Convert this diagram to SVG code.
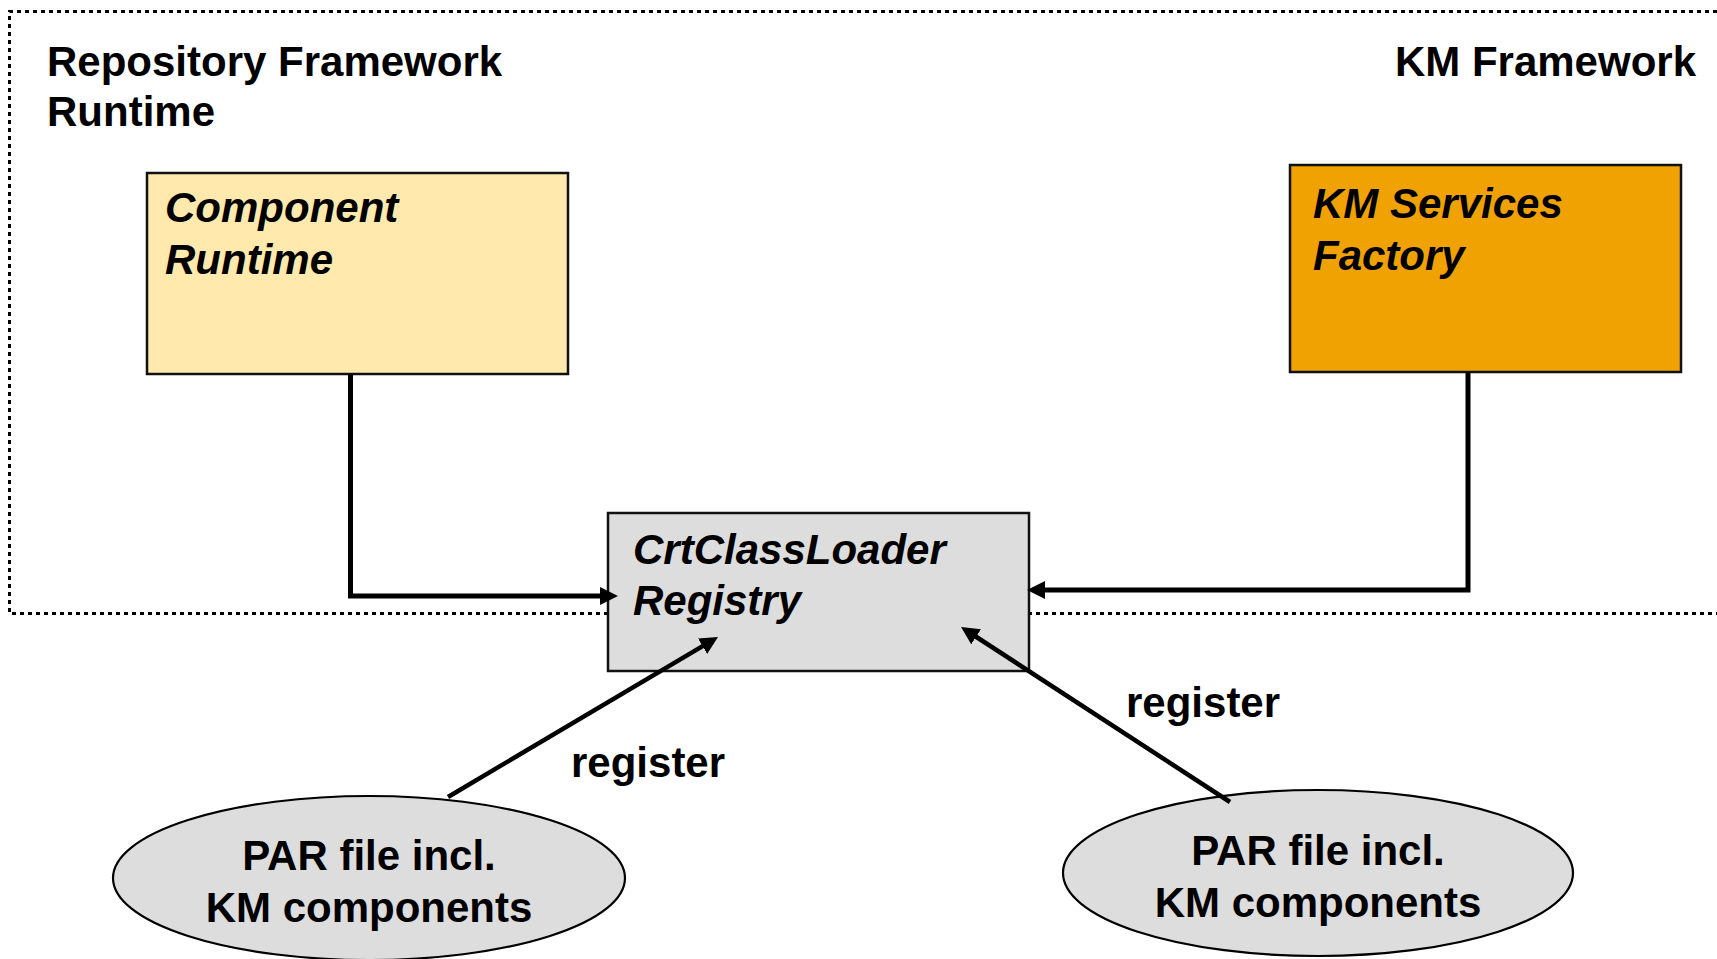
<svg xmlns="http://www.w3.org/2000/svg" width="1717" height="959" viewBox="0 0 1717 959">
<style>
  .bg { fill: #ffffff; }
  .frame { fill: none; stroke: #000; stroke-width: 3; stroke-dasharray: 4 4; }
  .box { stroke: #111; stroke-width: 2.5; }
  .ell { fill: #dddddd; stroke: #000; stroke-width: 2.2; }
  .title { font-family: "Liberation Sans", Arial, sans-serif; font-size: 42px; font-weight: bold; fill: #000; }
  .lbl { font-family: "Liberation Sans", Arial, sans-serif; font-size: 42px; font-weight: bold; font-style: italic; fill: #000; }
  .etxt { font-family: "Liberation Sans", Arial, sans-serif; font-size: 42px; font-weight: bold; fill: #000; text-anchor: middle; }
  .conn { fill: none; stroke: #000; stroke-width: 5; stroke-linejoin: miter; marker-end: url(#ah); }
  .diag { fill: none; stroke: #000; stroke-width: 4.5; marker-end: url(#ah); }
</style>
<defs>
  <marker id="ah" markerUnits="userSpaceOnUse" markerWidth="18" markerHeight="18" refX="6" refY="9" orient="auto">
    <path d="M0,0 L18,9 L0,18 z" fill="#000"/>
  </marker>
</defs>
<rect class="bg" x="0" y="0" width="1717" height="959"/>
<path class="frame" d="M1717,11.5 H9.5 V613.5 H1717"/>
<text class="title" x="47" y="76">Repository Framework</text>
<text class="title" x="47" y="126">Runtime</text>
<text class="title" x="1696" y="76" text-anchor="end">KM Framework</text>
<g id="component-runtime">
  <rect class="box" x="147" y="173" width="421" height="201" fill="#ffe9ad"/>
  <text class="lbl" x="165" y="222">Component</text>
  <text class="lbl" x="165" y="274">Runtime</text>
</g>
<g id="km-services-factory">
  <rect class="box" x="1290" y="165" width="391" height="207" fill="#f0a202"/>
  <text class="lbl" x="1313" y="218">KM Services</text>
  <text class="lbl" x="1313" y="270">Factory</text>
</g>
<g id="crt-classloader-registry">
  <rect class="box" x="608" y="513" width="421" height="158" fill="#dddddd"/>
  <text class="lbl" x="633" y="564">CrtClassLoader</text>
  <text class="lbl" x="633" y="615">Registry</text>
</g>
<g id="par-file-left">
  <ellipse class="ell" cx="369" cy="878" rx="256" ry="82"/>
  <text class="etxt" x="369" y="870">PAR file incl.</text>
  <text class="etxt" x="369" y="922">KM components</text>
</g>
<g id="par-file-right">
  <ellipse class="ell" cx="1318" cy="873" rx="255" ry="83"/>
  <text class="etxt" x="1318" y="865">PAR file incl.</text>
  <text class="etxt" x="1318" y="917">KM components</text>
</g>
<g id="connectors">
  <path class="conn" d="M350.5,374 V596 H606"/>
  <path class="conn" d="M1468,372 V590 H1039"/>
  <path class="diag" d="M448,797 L707.7,643.1"/>
  <path class="diag" d="M1230,802 L971.1,633.5"/>
  <text class="title" x="571" y="777">register</text>
  <text class="title" x="1126" y="717">register</text>
</g>
</svg>
